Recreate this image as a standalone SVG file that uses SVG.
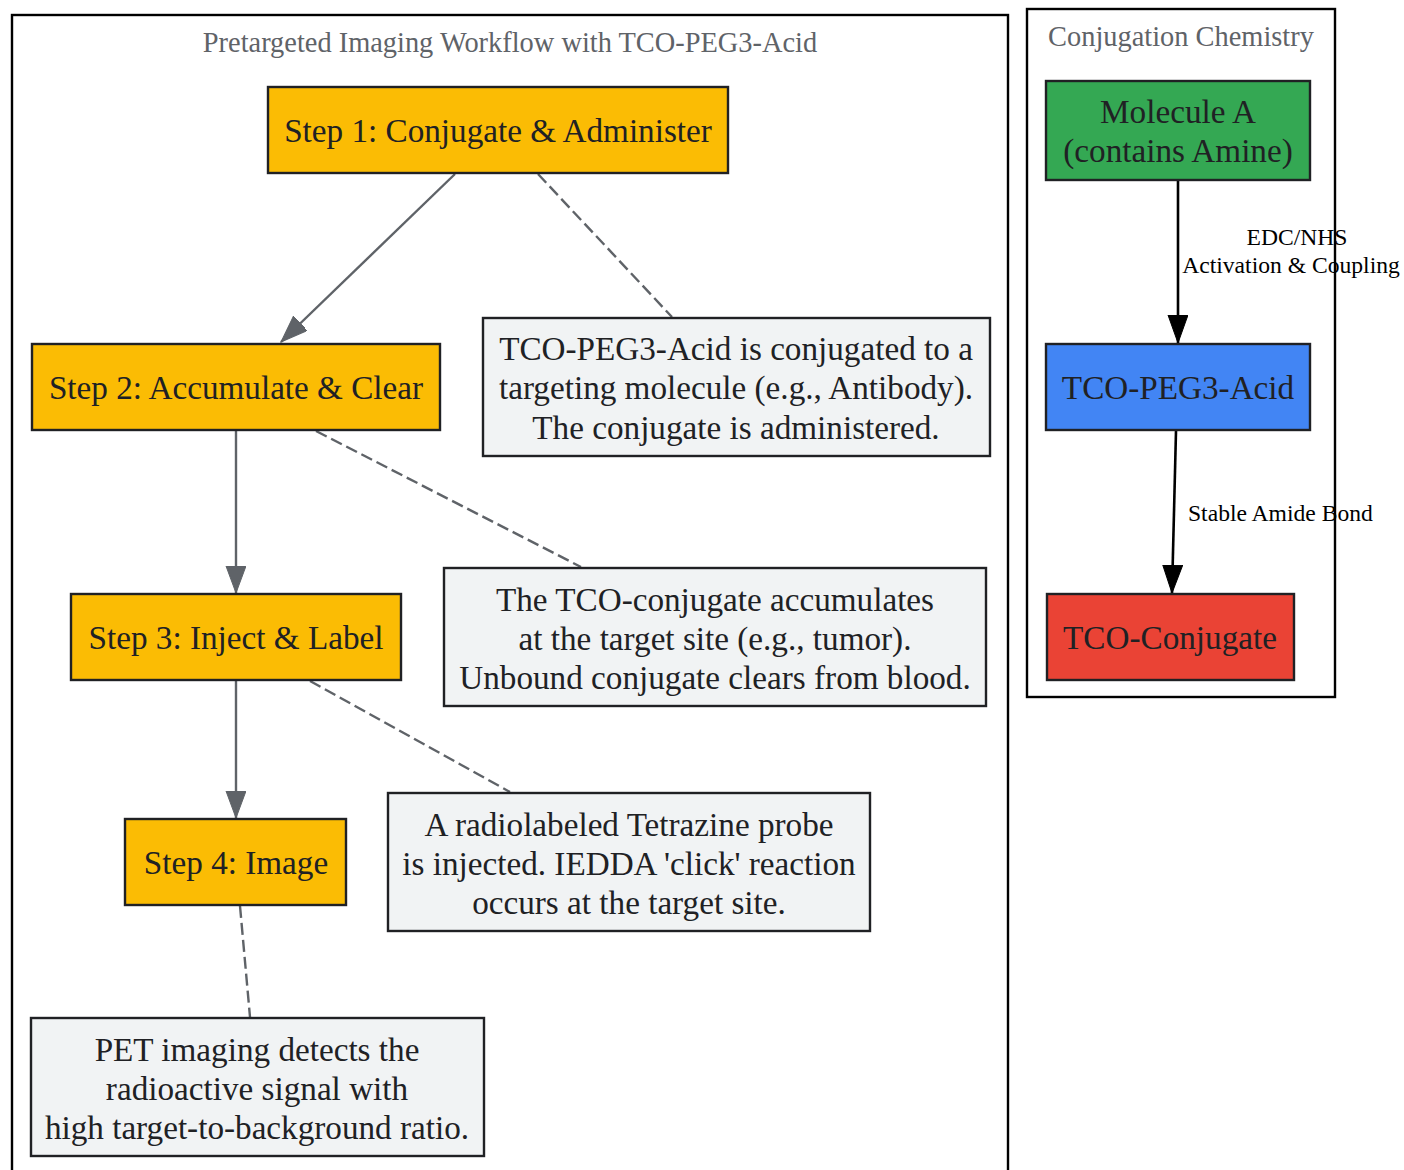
<svg xmlns="http://www.w3.org/2000/svg" width="1404" height="1170" viewBox="0 0 1404 1170">
<style>
  text { font-family: "Liberation Serif", "Times New Roman", serif; }
  .cluster { fill: #ffffff; stroke: #000000; stroke-width: 2.4; }
  .ctitle { font-size: 28.4px; fill: #5f6368; text-anchor: middle; }
  .node rect { stroke: #202124; stroke-width: 2.4; }
  .step { fill: #fbbc04; }
  .note { fill: #f1f3f4; }
  .green { fill: #34a853; }
  .blue { fill: #4285f4; }
  .red { fill: #ea4335; }
  .ntext { font-size: 33.2px; fill: #202124; text-anchor: middle; }
  .flow { stroke: #5f6368; stroke-width: 2.4; fill: none; }
  .dash { stroke: #5f6368; stroke-width: 2.4; fill: none; stroke-dasharray: 12 5; }
  .chem { stroke: #000000; stroke-width: 2.6; fill: none; }
  .elabel { font-size: 23.6px; fill: #000000; }
</style>
<defs>
  <marker id="arrGray" markerUnits="userSpaceOnUse" markerWidth="28" markerHeight="22" refX="27" refY="10" orient="auto">
    <path d="M0,0 L27,10 L0,20 z" fill="#5f6368" stroke="#5f6368" stroke-width="1"/>
  </marker>
  <marker id="arrBlack" markerUnits="userSpaceOnUse" markerWidth="30" markerHeight="22" refX="28" refY="10" orient="auto">
    <path d="M0,0 L28,10 L0,20 z" fill="#000000" stroke="#000000" stroke-width="1"/>
  </marker>
</defs>
<rect width="1404" height="1170" fill="#ffffff"/>

<g id="cluster_workflow">
  <rect class="cluster" x="12" y="15" width="996" height="1170"/>
  <text class="ctitle" x="510" y="52">Pretargeted Imaging Workflow with TCO-PEG3-Acid</text>
</g>
<g id="cluster_chem">
  <rect class="cluster" x="1027" y="9" width="308" height="688"/>
  <text class="ctitle" x="1181" y="46">Conjugation Chemistry</text>
</g>

<g id="connectors">
  <line class="flow" x1="455" y1="174" x2="281" y2="342" marker-end="url(#arrGray)"/>
  <line class="flow" x1="236" y1="431" x2="236" y2="593" marker-end="url(#arrGray)"/>
  <line class="flow" x1="236" y1="681" x2="236" y2="818" marker-end="url(#arrGray)"/>
  <line class="dash" x1="538" y1="174" x2="672" y2="317"/>
  <line class="dash" x1="316" y1="431" x2="581" y2="567"/>
  <line class="dash" x1="310" y1="681" x2="510" y2="792"/>
  <line class="dash" x1="240" y1="906" x2="250" y2="1017"/>
  <line class="chem" x1="1178" y1="181" x2="1178" y2="343" marker-end="url(#arrBlack)"/>
  <line class="chem" x1="1176" y1="431" x2="1172" y2="593" marker-end="url(#arrBlack)"/>
  <text class="elabel" x="1297" y="245" text-anchor="middle">EDC/NHS</text>
  <text class="elabel" x="1291" y="273" text-anchor="middle">Activation &amp; Coupling</text>
  <text class="elabel" x="1188" y="521">Stable Amide Bond</text>
</g>

<g id="step1" class="node">
  <rect class="step" x="268" y="87" width="460" height="86"/>
  <text class="ntext" x="498" y="142">Step 1: Conjugate &amp; Administer</text>
</g>
<g id="step2" class="node">
  <rect class="step" x="32" y="344" width="408" height="86"/>
  <text class="ntext" x="236" y="399">Step 2: Accumulate &amp; Clear</text>
</g>
<g id="step3" class="node">
  <rect class="step" x="71" y="594" width="330" height="86"/>
  <text class="ntext" x="236" y="649">Step 3: Inject &amp; Label</text>
</g>
<g id="step4" class="node">
  <rect class="step" x="125" y="819" width="221" height="86"/>
  <text class="ntext" x="236" y="874">Step 4: Image</text>
</g>

<g id="note1" class="node">
  <rect class="note" x="483" y="318" width="507" height="138"/>
  <text class="ntext" x="736" y="360">TCO-PEG3-Acid is conjugated to a</text>
  <text class="ntext" x="736" y="399">targeting molecule (e.g., Antibody).</text>
  <text class="ntext" x="736" y="439">The conjugate is administered.</text>
</g>
<g id="note2" class="node">
  <rect class="note" x="444" y="568" width="542" height="138"/>
  <text class="ntext" x="715" y="611">The TCO-conjugate accumulates</text>
  <text class="ntext" x="715" y="650">at the target site (e.g., tumor).</text>
  <text class="ntext" x="715" y="689">Unbound conjugate clears from blood.</text>
</g>
<g id="note3" class="node">
  <rect class="note" x="388" y="793" width="482" height="138"/>
  <text class="ntext" x="629" y="836">A radiolabeled Tetrazine probe</text>
  <text class="ntext" x="629" y="875">is injected. IEDDA 'click' reaction</text>
  <text class="ntext" x="629" y="914">occurs at the target site.</text>
</g>
<g id="note4" class="node">
  <rect class="note" x="31" y="1018" width="453" height="138"/>
  <text class="ntext" x="257" y="1061">PET imaging detects the</text>
  <text class="ntext" x="257" y="1100">radioactive signal with</text>
  <text class="ntext" x="257" y="1139">high target-to-background ratio.</text>
</g>

<g id="moleculeA" class="node">
  <rect class="green" x="1046" y="81" width="264" height="99"/>
  <text class="ntext" x="1178" y="123">Molecule A</text>
  <text class="ntext" x="1178" y="162">(contains Amine)</text>
</g>
<g id="tcoPeg3Acid" class="node">
  <rect class="blue" x="1046" y="344" width="264" height="86"/>
  <text class="ntext" x="1178" y="399">TCO-PEG3-Acid</text>
</g>
<g id="tcoConjugate" class="node">
  <rect class="red" x="1047" y="594" width="247" height="86"/>
  <text class="ntext" x="1170" y="649">TCO-Conjugate</text>
</g>
</svg>
